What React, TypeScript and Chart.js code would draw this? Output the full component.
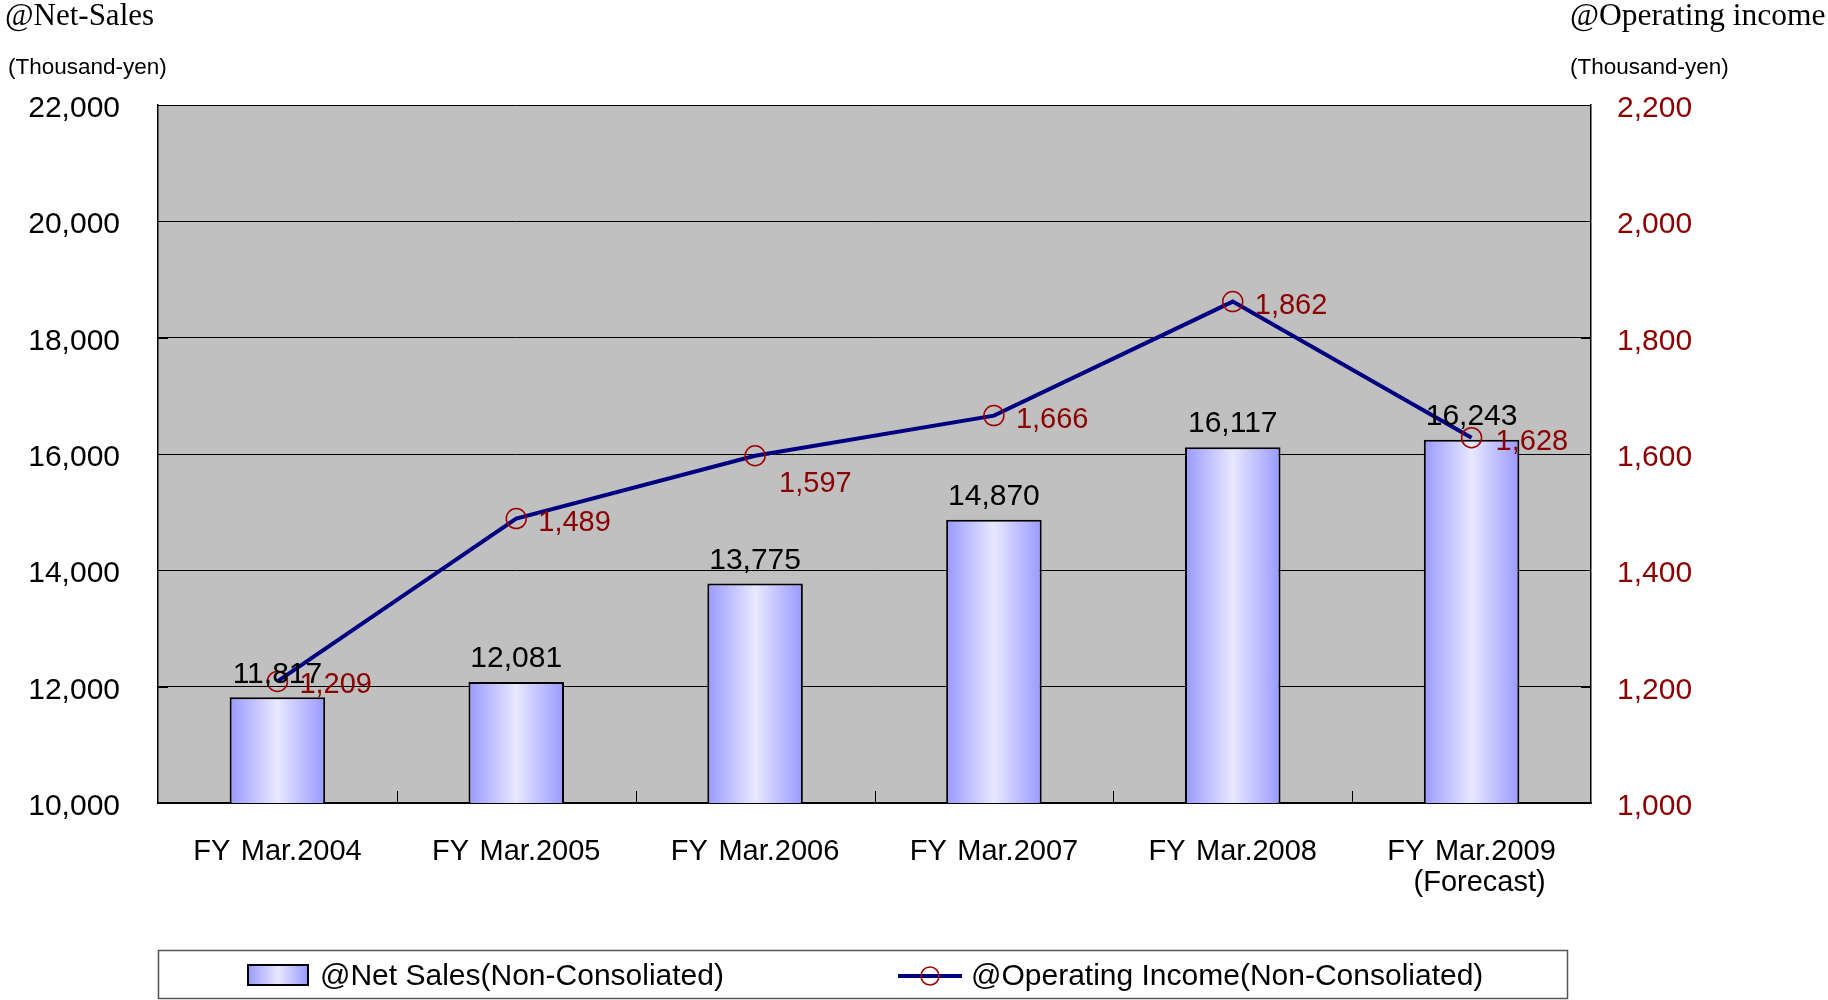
import React, { useEffect, useRef } from "react";
import { Chart, registerables } from "chart.js";

Chart.register(...registerables);

const categories: (string | string[])[] = [
  "FY \u200AMar.2004",
  "FY \u200AMar.2005",
  "FY \u200AMar.2006",
  "FY \u200AMar.2007",
  "FY \u200AMar.2008",
  ["FY \u200AMar.2009", "  (Forecast)"],
];
const netSales = [11817, 12081, 13775, 14870, 16117, 16243];
const operatingIncome = [1209, 1489, 1597, 1666, 1862, 1628];
const netSalesLabel = "@Net Sales(Non-Consoliated)";
const opIncomeLabel = "@Operating Income(Non-Consoliated)";
const leftTitle = "@Net-Sales";
const rightTitle = "@Operating income";
const unitLabel = "(Thousand-yen)";

const SANS = "'Liberation Sans', Arial, sans-serif";
const SERIF = "'Liberation Serif', 'Times New Roman', serif";
const DARK_RED = "#8B0000";
const NAVY = "#000080";
const lineLabelDy = [4, 4, 28, 4, 4, 4];
const lineLabelDx = [22, 22, 24, 22, 22, 24];

const fmt = (v: number) => v.toLocaleString("en-US");

function barGradient(ctx: CanvasRenderingContext2D, x0: number, x1: number) {
  const g = ctx.createLinearGradient(x0, 0, x1, 0);
  g.addColorStop(0, "#9999FF");
  g.addColorStop(0.5, "#E8E8FF");
  g.addColorStop(1, "#9999FF");
  return g;
}

const decorPlugin = {
  id: "decor",
  beforeDraw(chart: any) {
    const { ctx, chartArea } = chart;
    ctx.save();
    ctx.fillStyle = "#ffffff";
    ctx.fillRect(0, 0, chart.width, chart.height);
    ctx.fillStyle = "#C0C0C0";
    ctx.fillRect(chartArea.left, chartArea.top, chartArea.right - chartArea.left, chartArea.bottom - chartArea.top);
    ctx.restore();
  },
  beforeDatasetsDraw(chart: any) {
    const { ctx, chartArea, scales } = chart;
    ctx.save();
    ctx.strokeStyle = "#000";
    ctx.lineWidth = 1;
    const n = categories.length;
    const cw = (chartArea.right - chartArea.left) / n;
    for (let i = 1; i < n; i++) {
      const x = Math.round(chartArea.left + i * cw) + 0.5;
      ctx.beginPath();
      ctx.moveTo(x, chartArea.bottom);
      ctx.lineTo(x, chartArea.bottom - 12);
      ctx.stroke();
    }
    scales.y.ticks.forEach((t: any) => {
      const y = Math.round(scales.y.getPixelForValue(t.value)) + 0.5;
      ctx.beginPath();
      ctx.moveTo(chartArea.left, y);
      ctx.lineTo(chartArea.left + 10, y);
      ctx.stroke();
    });
    scales.y1.ticks.forEach((t: any) => {
      const y = Math.round(scales.y1.getPixelForValue(t.value)) + 0.5;
      ctx.beginPath();
      ctx.moveTo(chartArea.right, y);
      ctx.lineTo(chartArea.right - 10, y);
      ctx.stroke();
    });
    ctx.restore();
  },
  afterDatasetsDraw(chart: any) {
    const { ctx } = chart;
    ctx.save();
    ctx.textBaseline = "middle";
    const barMeta = chart.getDatasetMeta(0);
    ctx.font = `30px ${SANS}`;
    ctx.fillStyle = "#000";
    ctx.textAlign = "center";
    barMeta.data.forEach((el: any, i: number) => {
      ctx.fillText(fmt(netSales[i]), el.x, el.y - 23);
    });
    const lineMeta = chart.getDatasetMeta(1);
    ctx.font = `29px ${SANS}`;
    ctx.fillStyle = DARK_RED;
    ctx.textAlign = "left";
    lineMeta.data.forEach((el: any, i: number) => {
      ctx.fillText(fmt(operatingIncome[i]), el.x + lineLabelDx[i], el.y + lineLabelDy[i]);
    });
    ctx.restore();
  },
  afterDraw(chart: any) {
    const { ctx } = chart;
    ctx.save();
    // titles
    ctx.fillStyle = "#000";
    ctx.textBaseline = "alphabetic";
    ctx.textAlign = "left";
    ctx.font = `31px ${SERIF}`;
    ctx.fillText(leftTitle, 5, 25);
    ctx.font = `31.5px ${SERIF}`;
    ctx.fillText(rightTitle, 1570, 25);
    ctx.font = `22.5px ${SANS}`;
    ctx.textBaseline = "middle";
    ctx.fillText(unitLabel, 8, 68);
    ctx.fillText(unitLabel, 1570, 68);
    // legend
    ctx.strokeStyle = "#555";
    ctx.lineWidth = 1.5;
    ctx.strokeRect(158.5, 950.5, 1409, 48);
    ctx.fillStyle = barGradient(ctx, 248, 308);
    ctx.fillRect(248, 965, 60, 20);
    ctx.strokeStyle = "#000";
    ctx.lineWidth = 2;
    ctx.strokeRect(248, 965, 60, 20);
    ctx.strokeStyle = NAVY;
    ctx.lineWidth = 4;
    ctx.beginPath();
    ctx.moveTo(898, 976);
    ctx.lineTo(962, 976);
    ctx.stroke();
    ctx.strokeStyle = "#A00000";
    ctx.lineWidth = 1.5;
    ctx.beginPath();
    ctx.arc(930, 976, 9, 0, Math.PI * 2);
    ctx.stroke();
    ctx.fillStyle = "#000";
    ctx.font = `30px ${SANS}`;
    ctx.textBaseline = "middle";
    ctx.fillText(chart.data.datasets[0].label, 320, 977);
    ctx.fillText(chart.data.datasets[1].label, 971, 977);
    ctx.restore();
  },
};

export default function App() {
  const ref = useRef<HTMLCanvasElement | null>(null);
  useEffect(() => {
    if (!ref.current) return;
    const chart = new Chart(ref.current, {
      type: "bar",
      data: {
        labels: categories as any,
        datasets: [
          {
            type: "bar",
            label: netSalesLabel,
            data: netSales,
            yAxisID: "y",
            order: 1,
            borderColor: "#000",
            borderWidth: 2,
            barPercentage: 0.4,
            categoryPercentage: 1.0,
            backgroundColor: (c: any) => {
              const ch = c.chart;
              if (!ch.chartArea || c.dataIndex === undefined) return "#B0B0FF";
              const xs = ch.scales.x;
              const cx = xs.getPixelForValue(c.dataIndex);
              const w = ((ch.chartArea.right - ch.chartArea.left) / categories.length) * 0.4;
              return barGradient(ch.ctx, cx - w / 2, cx + w / 2);
            },
          } as any,
          {
            type: "line",
            label: opIncomeLabel,
            data: operatingIncome,
            yAxisID: "y1",
            order: 0,
            borderColor: NAVY,
            borderWidth: 4,
            tension: 0,
            pointStyle: "circle",
            pointRadius: 10,
            pointBorderWidth: 1.5,
            pointBorderColor: "#A00000",
            pointBackgroundColor: "rgba(0,0,0,0)",
          } as any,
        ],
      },
      options: {
        responsive: false,
        animation: false,
        devicePixelRatio: 1,
        layout: { padding: { top: 105, left: 0, right: 0, bottom: 0 } },
        plugins: { legend: { display: false }, tooltip: { enabled: false } },
        scales: {
          x: {
            type: "category",
            offset: true,
            grid: { display: false, drawTicks: false },
            border: { display: true, color: "#000", width: 1.5 },
            ticks: {
              color: "#000",
              font: { family: SANS, size: 29, lineHeight: 1.05 },
              padding: 34,
              maxRotation: 0,
              autoSkip: false,
            },
            afterFit: (s: any) => {
              s.height = 197;
            },
          },
          y: {
            position: "left",
            min: 10000,
            max: 22000,
            grid: { color: "#000", lineWidth: 1, drawTicks: false },
            border: { display: true, color: "#000", width: 1.5 },
            ticks: {
              stepSize: 2000,
              color: "#000",
              font: { family: SANS, size: 30, lineHeight: 0.25 },
              padding: 38,
              callback: (v: any) => ["", fmt(Number(v))],
            },
            afterFit: (s: any) => {
              s.width = 158;
            },
          },
          y1: {
            position: "right",
            min: 1000,
            max: 2200,
            grid: { drawOnChartArea: false, drawTicks: false },
            border: { display: true, color: "#000", width: 1.5 },
            ticks: {
              stepSize: 200,
              color: DARK_RED,
              font: { family: SANS, size: 30, lineHeight: 0.25 },
              padding: 26,
              callback: (v: any) => ["", fmt(Number(v))],
            },
            afterFit: (s: any) => {
              s.width = 237;
            },
          },
        },
      } as any,
      plugins: [decorPlugin],
    });
    return () => chart.destroy();
  }, []);
  return (
    <div style={{ position: "absolute", left: 0, top: 0, width: 1828, height: 1000 }}>
      <canvas ref={ref} width={1828} height={1000} style={{ display: "block" }} />
    </div>
  );
}
